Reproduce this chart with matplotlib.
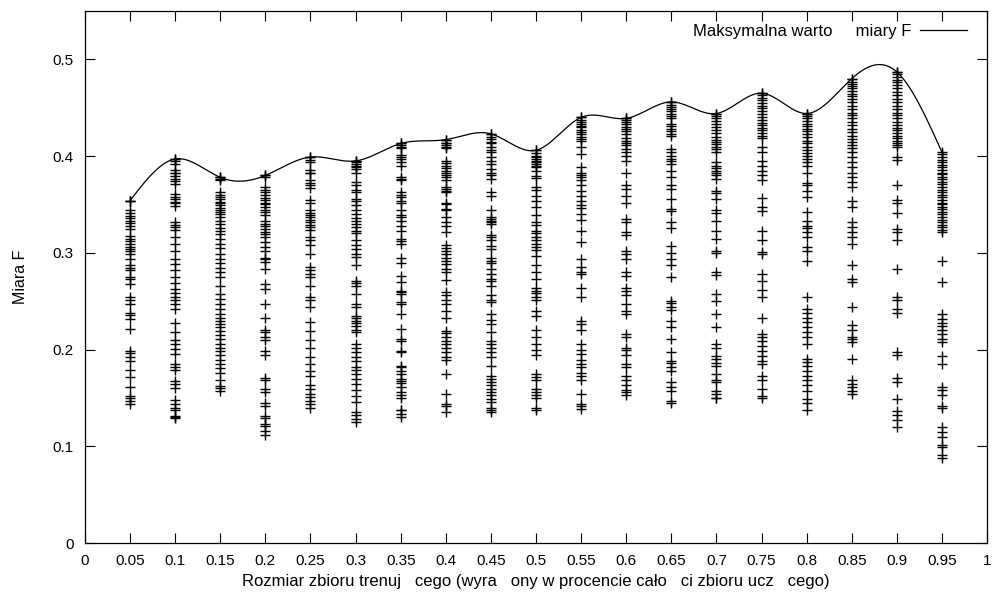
import numpy as np
import matplotlib
matplotlib.use('Agg')
import matplotlib.pyplot as plt

plt.rcParams['font.family'] = ['Liberation Sans', 'DejaVu Sans']
plt.rcParams['lines.linewidth'] = 1

# rozmiar zbioru trenujacego
sizes = [0.05, 0.1, 0.15, 0.2, 0.25, 0.3, 0.35, 0.4, 0.45, 0.5,
         0.55, 0.6, 0.65, 0.7, 0.75, 0.8, 0.85, 0.9, 0.95]

# miara F dla kazdego rozmiaru
f_005 = [0.354, 0.354, 0.354, 0.344, 0.341, 0.338, 0.336, 0.333, 0.331, 0.328, 0.325, 0.317,
         0.314, 0.312, 0.309, 0.306, 0.304, 0.302, 0.299, 0.294, 0.287, 0.284, 0.282,
         0.275, 0.273, 0.268, 0.254, 0.251, 0.247, 0.238, 0.236, 0.232, 0.221, 0.199,
         0.196, 0.192, 0.188, 0.179, 0.172, 0.161, 0.152, 0.150, 0.147, 0.144]
f_010 = [0.397, 0.397, 0.395, 0.392, 0.386, 0.383, 0.382, 0.379, 0.376, 0.374, 0.371, 0.361,
         0.358, 0.356, 0.353, 0.351, 0.348, 0.332, 0.329, 0.327, 0.324, 0.316, 0.309,
         0.302, 0.294, 0.288, 0.282, 0.275, 0.269, 0.263, 0.258, 0.254, 0.251, 0.247,
         0.242, 0.227, 0.218, 0.210, 0.206, 0.201, 0.195, 0.185, 0.182, 0.179, 0.167,
         0.164, 0.160, 0.148, 0.144, 0.140, 0.137, 0.131, 0.130, 0.129]
f_015 = [0.378, 0.378, 0.376, 0.375, 0.363, 0.360, 0.358, 0.356, 0.353, 0.351, 0.349, 0.346,
         0.344, 0.342, 0.340, 0.337, 0.333, 0.330, 0.326, 0.323, 0.319, 0.314, 0.309,
         0.305, 0.299, 0.294, 0.289, 0.284, 0.280, 0.275, 0.266, 0.257, 0.252, 0.247,
         0.242, 0.237, 0.233, 0.230, 0.226, 0.223, 0.219, 0.215, 0.211, 0.206, 0.202,
         0.198, 0.194, 0.189, 0.185, 0.181, 0.176, 0.169, 0.162, 0.160, 0.157]
f_020 = [0.380, 0.380, 0.378, 0.368, 0.365, 0.363, 0.360, 0.357, 0.355, 0.352, 0.350, 0.347,
         0.344, 0.342, 0.339, 0.333, 0.330, 0.328, 0.325, 0.321, 0.319, 0.316, 0.311,
         0.306, 0.302, 0.295, 0.294, 0.291, 0.283, 0.268, 0.263, 0.247, 0.233, 0.220,
         0.218, 0.213, 0.210, 0.199, 0.194, 0.171, 0.168, 0.159, 0.156, 0.145, 0.142,
         0.131, 0.129, 0.123, 0.121, 0.116, 0.112]
f_025 = [0.399, 0.399, 0.396, 0.394, 0.386, 0.383, 0.382, 0.375, 0.372, 0.370, 0.367, 0.355,
         0.352, 0.344, 0.341, 0.339, 0.337, 0.334, 0.332, 0.329, 0.327, 0.324, 0.316,
         0.313, 0.308, 0.299, 0.285, 0.282, 0.278, 0.275, 0.266, 0.254, 0.251, 0.244,
         0.228, 0.219, 0.210, 0.202, 0.192, 0.185, 0.178, 0.173, 0.163, 0.159, 0.154,
         0.151, 0.147, 0.144, 0.140]
f_030 = [0.395, 0.395, 0.394, 0.392, 0.390, 0.389, 0.387, 0.382, 0.373, 0.370, 0.365, 0.363,
         0.356, 0.354, 0.349, 0.344, 0.340, 0.336, 0.333, 0.330, 0.327, 0.323, 0.320,
         0.313, 0.308, 0.304, 0.299, 0.296, 0.287, 0.271, 0.269, 0.266, 0.257, 0.247,
         0.244, 0.235, 0.233, 0.230, 0.227, 0.224, 0.220, 0.218, 0.206, 0.202, 0.197,
         0.192, 0.188, 0.182, 0.179, 0.175, 0.170, 0.164, 0.158, 0.152, 0.146, 0.135,
         0.132, 0.128, 0.125]
f_035 = [0.413, 0.413, 0.411, 0.409, 0.408, 0.401, 0.399, 0.397, 0.394, 0.390, 0.378, 0.376,
         0.375, 0.363, 0.360, 0.358, 0.354, 0.352, 0.344, 0.339, 0.337, 0.333, 0.328,
         0.323, 0.314, 0.312, 0.309, 0.295, 0.289, 0.276, 0.270, 0.261, 0.259, 0.257,
         0.249, 0.247, 0.237, 0.221, 0.211, 0.209, 0.199, 0.197, 0.183, 0.182, 0.178,
         0.175, 0.170, 0.167, 0.165, 0.161, 0.156, 0.153, 0.150, 0.138, 0.137, 0.133,
         0.130]
f_040 = [0.417, 0.417, 0.414, 0.413, 0.411, 0.409, 0.408, 0.395, 0.393, 0.390, 0.388, 0.385,
         0.382, 0.380, 0.378, 0.375, 0.368, 0.366, 0.364, 0.363, 0.352, 0.350, 0.345,
         0.344, 0.337, 0.332, 0.328, 0.321, 0.308, 0.305, 0.302, 0.299, 0.295, 0.292,
         0.288, 0.283, 0.280, 0.272, 0.259, 0.256, 0.251, 0.247, 0.240, 0.233, 0.219,
         0.217, 0.213, 0.209, 0.206, 0.202, 0.197, 0.192, 0.189, 0.175, 0.154, 0.144,
         0.142, 0.135]
f_045 = [0.423, 0.423, 0.420, 0.418, 0.415, 0.413, 0.409, 0.406, 0.404, 0.399, 0.395, 0.392,
         0.387, 0.383, 0.380, 0.376, 0.363, 0.359, 0.344, 0.337, 0.335, 0.333, 0.332,
         0.330, 0.318, 0.316, 0.313, 0.307, 0.304, 0.295, 0.292, 0.289, 0.283, 0.278,
         0.273, 0.271, 0.266, 0.256, 0.251, 0.249, 0.237, 0.231, 0.226, 0.218, 0.209,
         0.206, 0.202, 0.197, 0.192, 0.183, 0.173, 0.170, 0.166, 0.163, 0.159, 0.156,
         0.153, 0.149, 0.146, 0.140, 0.137, 0.135]
f_050 = [0.406, 0.406, 0.403, 0.400, 0.399, 0.397, 0.395, 0.394, 0.392, 0.390, 0.389, 0.385,
         0.379, 0.377, 0.368, 0.365, 0.359, 0.354, 0.347, 0.339, 0.332, 0.329, 0.323,
         0.320, 0.316, 0.313, 0.309, 0.306, 0.303, 0.297, 0.287, 0.280, 0.273, 0.264,
         0.261, 0.258, 0.254, 0.251, 0.240, 0.235, 0.220, 0.213, 0.206, 0.200, 0.194,
         0.175, 0.172, 0.168, 0.159, 0.156, 0.153, 0.150, 0.140, 0.138]
f_055 = [0.440, 0.440, 0.437, 0.435, 0.433, 0.431, 0.430, 0.427, 0.425, 0.423, 0.420, 0.418,
         0.416, 0.409, 0.402, 0.389, 0.383, 0.380, 0.378, 0.375, 0.370, 0.364, 0.359,
         0.354, 0.349, 0.346, 0.340, 0.334, 0.323, 0.311, 0.294, 0.285, 0.280, 0.278,
         0.264, 0.254, 0.230, 0.226, 0.220, 0.206, 0.200, 0.195, 0.189, 0.185, 0.182,
         0.176, 0.173, 0.168, 0.154, 0.144, 0.142, 0.139]
f_060 = [0.439, 0.439, 0.437, 0.435, 0.433, 0.430, 0.428, 0.426, 0.423, 0.419, 0.416, 0.413,
         0.411, 0.407, 0.404, 0.400, 0.395, 0.383, 0.370, 0.366, 0.359, 0.352, 0.335,
         0.332, 0.321, 0.318, 0.302, 0.299, 0.294, 0.280, 0.276, 0.264, 0.261, 0.256,
         0.247, 0.240, 0.237, 0.216, 0.213, 0.202, 0.200, 0.194, 0.185, 0.182, 0.173,
         0.168, 0.163, 0.158, 0.156, 0.153]
f_065 = [0.456, 0.456, 0.453, 0.451, 0.449, 0.447, 0.444, 0.441, 0.439, 0.433, 0.431, 0.428,
         0.426, 0.423, 0.421, 0.407, 0.404, 0.400, 0.397, 0.395, 0.392, 0.385, 0.378,
         0.370, 0.366, 0.356, 0.345, 0.343, 0.332, 0.326, 0.307, 0.300, 0.294, 0.287,
         0.275, 0.250, 0.248, 0.244, 0.241, 0.230, 0.223, 0.211, 0.197, 0.188, 0.186,
         0.182, 0.178, 0.166, 0.161, 0.157, 0.147, 0.145]
f_070 = [0.444, 0.444, 0.441, 0.439, 0.436, 0.433, 0.430, 0.427, 0.424, 0.420, 0.417, 0.415,
         0.412, 0.409, 0.407, 0.404, 0.394, 0.390, 0.388, 0.385, 0.382, 0.380, 0.376,
         0.364, 0.362, 0.356, 0.344, 0.341, 0.333, 0.323, 0.314, 0.302, 0.300, 0.280,
         0.277, 0.257, 0.250, 0.237, 0.223, 0.206, 0.202, 0.193, 0.190, 0.186, 0.183,
         0.175, 0.169, 0.166, 0.157, 0.154, 0.150, 0.150]
f_075 = [0.465, 0.465, 0.463, 0.460, 0.458, 0.455, 0.452, 0.450, 0.447, 0.444, 0.440, 0.437,
         0.434, 0.432, 0.429, 0.427, 0.424, 0.421, 0.419, 0.409, 0.404, 0.395, 0.390,
         0.385, 0.380, 0.375, 0.357, 0.347, 0.343, 0.323, 0.313, 0.301, 0.299, 0.278,
         0.271, 0.262, 0.254, 0.233, 0.216, 0.213, 0.209, 0.204, 0.199, 0.193, 0.188,
         0.185, 0.173, 0.168, 0.159, 0.152, 0.150]
f_080 = [0.444, 0.444, 0.441, 0.439, 0.436, 0.433, 0.431, 0.428, 0.426, 0.423, 0.420, 0.416,
         0.413, 0.409, 0.406, 0.403, 0.400, 0.397, 0.394, 0.390, 0.382, 0.372, 0.370,
         0.364, 0.358, 0.342, 0.333, 0.328, 0.326, 0.321, 0.316, 0.306, 0.302, 0.292,
         0.254, 0.242, 0.238, 0.233, 0.228, 0.223, 0.218, 0.213, 0.206, 0.190, 0.187,
         0.183, 0.178, 0.173, 0.168, 0.163, 0.157, 0.149, 0.145, 0.138]
f_085 = [0.480, 0.480, 0.477, 0.475, 0.472, 0.470, 0.467, 0.464, 0.462, 0.459, 0.456, 0.452,
         0.449, 0.445, 0.442, 0.439, 0.435, 0.432, 0.428, 0.425, 0.421, 0.418, 0.415,
         0.411, 0.408, 0.404, 0.399, 0.394, 0.389, 0.383, 0.378, 0.373, 0.368, 0.354,
         0.347, 0.332, 0.327, 0.321, 0.316, 0.309, 0.287, 0.273, 0.270, 0.244, 0.225,
         0.220, 0.213, 0.211, 0.208, 0.190, 0.168, 0.164, 0.161, 0.157, 0.154]
f_090 = [0.487, 0.487, 0.485, 0.482, 0.479, 0.477, 0.473, 0.470, 0.466, 0.463, 0.459, 0.456,
         0.452, 0.449, 0.445, 0.442, 0.439, 0.435, 0.432, 0.429, 0.427, 0.424, 0.421,
         0.419, 0.416, 0.413, 0.411, 0.409, 0.399, 0.396, 0.370, 0.355, 0.351, 0.341,
         0.325, 0.321, 0.313, 0.283, 0.254, 0.251, 0.242, 0.238, 0.197, 0.194, 0.171,
         0.166, 0.149, 0.136, 0.132, 0.127, 0.120]
f_095 = [0.404, 0.402, 0.399, 0.396, 0.394, 0.391, 0.389, 0.386, 0.383, 0.381, 0.378, 0.376,
         0.373, 0.371, 0.368, 0.365, 0.363, 0.360, 0.358, 0.355, 0.352, 0.350, 0.347,
         0.345, 0.342, 0.340, 0.337, 0.334, 0.332, 0.329, 0.327, 0.324, 0.322, 0.292,
         0.270, 0.237, 0.232, 0.227, 0.224, 0.220, 0.216, 0.211, 0.208, 0.193, 0.185,
         0.161, 0.158, 0.153, 0.142, 0.140, 0.120, 0.115, 0.110, 0.101, 0.099, 0.091,
         0.088]

columns = [f_005, f_010, f_015, f_020, f_025, f_030, f_035, f_040, f_045, f_050,
           f_055, f_060, f_065, f_070, f_075, f_080, f_085, f_090, f_095]

best = np.array([max(c) for c in columns])


def natural_spline(x, y, xs):
    # csplines jak w gnuplocie
    x = np.asarray(x, float)
    y = np.asarray(y, float)
    n = len(x)
    h = np.diff(x)
    A = np.zeros((n, n))
    b = np.zeros(n)
    A[0, 0] = 1
    A[-1, -1] = 1
    for i in range(1, n - 1):
        A[i, i - 1] = h[i - 1]
        A[i, i] = 2 * (h[i - 1] + h[i])
        A[i, i + 1] = h[i]
        b[i] = 3 * ((y[i + 1] - y[i]) / h[i] - (y[i] - y[i - 1]) / h[i - 1])
    c = np.linalg.solve(A, b)
    bb = (y[1:] - y[:-1]) / h - h * (2 * c[:-1] + c[1:]) / 3
    d = (c[1:] - c[:-1]) / (3 * h)
    idx = np.clip(np.searchsorted(x, xs) - 1, 0, n - 2)
    dx = xs - x[idx]
    return y[idx] + bb[idx] * dx + c[idx] * dx ** 2 + d[idx] * dx ** 3


fig = plt.figure(figsize=(9.95, 6.03), dpi=100)
ax = fig.add_axes([0.0854, 0.0995, 0.9066, 0.8823])

for s, col in zip(sizes, columns):
    ax.plot([s] * len(col), col, linestyle='none', marker='+', color='black',
            markersize=7, markeredgewidth=1.0)

xs = np.linspace(sizes[0], sizes[-1], 600)
ax.plot(xs, natural_spline(sizes, best, xs), color='black', linewidth=0.9,
        label='Maksymalna warto     miary F')

ax.set_xlim(0, 1)
ax.set_ylim(0, 0.55)
ax.set_xticks(np.arange(0, 1.0001, 0.05))
ax.set_xticklabels(['0'] + ['%g' % v for v in np.arange(0.05, 0.96, 0.05)] + ['1'])
ax.set_yticks([0, 0.1, 0.2, 0.3, 0.4, 0.5])
ax.set_yticklabels(['0', '0.1', '0.2', '0.3', '0.4', '0.5'])
ax.tick_params(direction='in', length=7, width=0.8, top=True, right=True,
               labelsize=11, pad=8, colors='black')
for sp in ax.spines.values():
    sp.set_linewidth(0.9)

ax.set_xlabel('Rozmiar zbioru trenuj   cego (wyra   ony w procencie cało   ci zbioru ucz   cego)',
              fontsize=12, labelpad=4)
ax.set_ylabel('Miara F', fontsize=11.5, labelpad=18)

ax.legend(loc='upper right', bbox_to_anchor=(1, 1.013), frameon=False, markerfirst=False,
          handlelength=2.8, fontsize=12, borderaxespad=0.8, handletextpad=0.55)

plt.savefig('out.png', dpi=100)
